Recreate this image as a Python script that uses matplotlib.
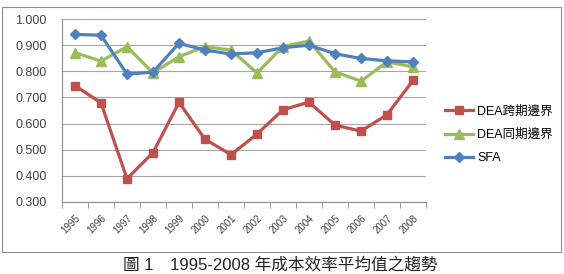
import matplotlib.pyplot as plt
from matplotlib.patches import Rectangle

years = [str(y) for y in range(1995, 2009)]
dea_cross = [0.745, 0.679, 0.389, 0.489, 0.681, 0.540, 0.481,
             0.560, 0.653, 0.682, 0.594, 0.571, 0.634, 0.765]
dea_same = [0.871, 0.839, 0.894, 0.794, 0.856, 0.894, 0.881,
            0.794, 0.894, 0.916, 0.798, 0.762, 0.836, 0.817]
sfa = [0.941, 0.938, 0.789, 0.797, 0.907, 0.881, 0.866,
       0.871, 0.890, 0.900, 0.867, 0.849, 0.840, 0.836]
labels = ['DEA跨期邊界', 'DEA同期邊界', 'SFA']
caption = '圖 1　1995-2008 年成本效率平均值之趨勢'

plt.rcParams['font.family'] = ['Liberation Sans', 'Noto Sans CJK TC', 'DejaVu Sans']

fig = plt.figure(figsize=(5.64, 2.74), dpi=100)
# outer chart frame
fig.patches.append(Rectangle((2 / 564, 22 / 274), 559 / 564, 245 / 274,
                             transform=fig.transFigure, fill=False,
                             edgecolor='#8c8c8c', linewidth=0.8))

ax = fig.add_axes([62 / 564, 1 - 202 / 274, 364 / 564, 183 / 274])
x = range(len(years))
ax.plot(x, dea_cross, color='#C0504D', marker='s', markersize=5.5, lw=2.3, label=labels[0])
ax.plot(x, dea_same, color='#9BBB59', marker='^', markersize=6.5, lw=2.3, label=labels[1])
ax.plot(x, sfa, color='#4F81BD', marker='D', markersize=5, lw=2.3, label=labels[2])

ax.set_xlim(-0.5, len(years) - 0.5)
ax.set_ylim(0.3, 1.0)
ax.set_yticks([0.3 + 0.1 * i for i in range(8)])
ax.set_yticklabels(['%.3f' % (0.3 + 0.1 * i) for i in range(8)], fontsize=9, color='#404040')
ax.yaxis.grid(True, color='#a6a6a6', lw=0.8)
ax.set_axisbelow(True)
ax.tick_params(axis='y', length=0, pad=11)

ax.set_xticks(list(x))
ax.set_xticklabels(years, rotation=45, ha='right', rotation_mode='anchor',
                   fontsize=7, color='#404040')
ax.set_xticks([i - 0.5 for i in range(len(years) + 1)], minor=True)
ax.tick_params(axis='x', which='major', length=0, pad=8)
ax.tick_params(axis='x', which='minor', length=4, color='#8c8c8c', direction='out')

for s in ['top', 'right']:
    ax.spines[s].set_visible(False)
for s in ['left', 'bottom']:
    ax.spines[s].set_color('#8c8c8c')
    ax.spines[s].set_linewidth(0.8)

fig.legend(loc='upper left', bbox_to_anchor=(434 / 564, 1 - 94 / 274), frameon=False,
           fontsize=9, handlelength=2.25, labelspacing=0.9, handletextpad=0.3)

fig.text(0.497, 1 / 274, caption, ha='center', va='bottom', fontsize=12,
         color='#222222')

fig.savefig('out.png', dpi=100)
